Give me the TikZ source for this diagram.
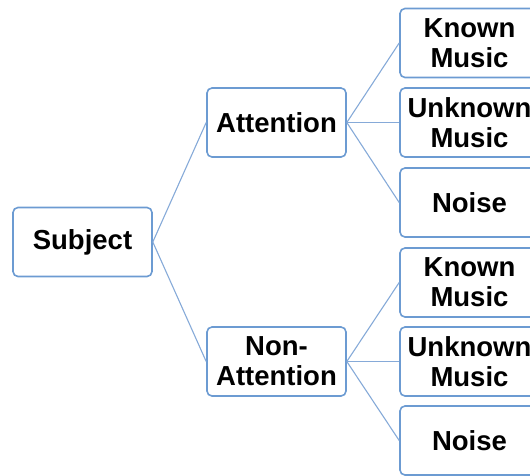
\documentclass[tikz,border=0pt]{standalone}
\usepackage{fontspec}
\setmainfont{Liberation Sans}
\definecolor{boxblue}{HTML}{6C9BD2}
\definecolor{lineblue}{HTML}{86AAD8}
\begin{document}
\begin{tikzpicture}[x=1pt,y=1pt,
  box/.style={draw=boxblue, line width=1.6pt, rounded corners=5pt, fill=white,
    minimum width=139pt, minimum height=69pt, inner sep=0pt, align=center,
    font=\fontsize{27.5}{30}\selectfont\bfseries},
  conn/.style={draw=lineblue, line width=1.1pt}]
\useasboundingbox (0,0) rectangle (530,-475);
\clip (0,0) rectangle (530,-475);
\node[box] (S) at (82.5,-242) {Subject};
\node[box] (A) at (276.5,-122.5) {Attention};
\node[box] (N) at (276.5,-361.5) {Non-\\Attention};
\node[box] (K1) at (469.5,-43) {Known\\Music};
\node[box] (U1) at (469.5,-122.5) {Unknown\\Music};
\node[box] (Z1) at (469.5,-202.5) {Noise};
\node[box] (K2) at (469.5,-282.5) {Known\\Music};
\node[box] (U2) at (469.5,-361.5) {Unknown\\Music};
\node[box] (Z2) at (469.5,-440.5) {Noise};
\draw[conn] (S.east) -- (A.west);
\draw[conn] (S.east) -- (N.west);
\draw[conn] (A.east) -- (K1.west);
\draw[conn] (A.east) -- (U1.west);
\draw[conn] (A.east) -- (Z1.west);
\draw[conn] (N.east) -- (K2.west);
\draw[conn] (N.east) -- (U2.west);
\draw[conn] (N.east) -- (Z2.west);
\end{tikzpicture}
\end{document}
